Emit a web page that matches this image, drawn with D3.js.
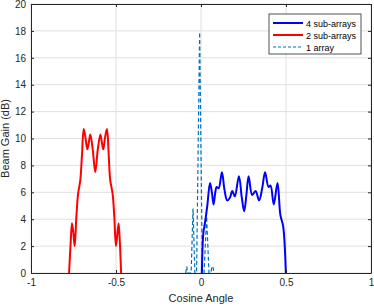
<!DOCTYPE html>
<html>
<head>
<meta charset="utf-8">
<script src="https://cdn.jsdelivr.net/npm/d3@7"></script>
<style>
  body { margin: 0; background: #fff; }
  svg { font-family: "Liberation Sans", Arial, sans-serif; }
  .axis path, .axis line { stroke: #262626; }
  .axis text { fill: #262626; font-size: 10px; }
</style>
</head>
<body>
<svg id="chart" width="374" height="307"></svg>
<script>
// tick values
var xTicks = [-1, -0.5, 0, 0.5, 1];
var yTicks = [0, 2, 4, 6, 8, 10, 12, 14, 16, 18, 20];

// 2 sub-arrays (red)
var redX = [-0.776, -0.767, -0.759, -0.751, -0.743, -0.733, -0.723, -0.710, -0.700, -0.690, -0.680, -0.669, -0.660, -0.651, -0.637, -0.622, -0.607, -0.592, -0.583, -0.575, -0.564, -0.553, -0.543, -0.534, -0.520, -0.510, -0.500, -0.485, -0.477, -0.470];
var redY = [0, 2.2, 3.7, 3.0, 2.0, 4.2, 5.9, 6.9, 8.8, 10.7, 10.1, 9.2, 9.7, 10.3, 9.2, 7.5, 9.2, 10.3, 9.7, 9.2, 10.1, 10.7, 8.8, 6.9, 5.9, 4.2, 2.0, 3.7, 2.2, 0];

// 4 sub-arrays (blue)
var blueX = [0.005, 0.014, 0.023, 0.037, 0.053, 0.064, 0.074, 0.084, 0.092, 0.104, 0.123, 0.138, 0.154, 0.170, 0.184, 0.199, 0.223, 0.240, 0.254, 0.267, 0.280, 0.301, 0.321, 0.342, 0.360, 0.377, 0.397, 0.409, 0.428, 0.450, 0.467, 0.483, 0.499];
var blueY = [0, 3.0, 3.7, 5.0, 6.7, 6.0, 5.1, 6.0, 6.4, 6.3, 7.5, 6.2, 5.4, 5.6, 6.1, 5.7, 7.2, 5.6, 4.6, 5.8, 7.2, 5.8, 6.1, 5.4, 6.3, 7.5, 6.4, 6.5, 5.1, 6.7, 4.3, 3.5, 0];

// 1 array (dashed)
var oneX = [-0.090, -0.084, -0.078, -0.058, -0.047, -0.036, -0.026, -0.008, 0.008, 0.018, 0.033, 0.047, 0.058, 0.064, 0.071, 0.076];
var oneY = [0, 0.5, 0, 0, 4.8, 0, 0, 17.9, 0, 0, 4.2, 0, 0, 0.5, 0.4, 0];

var seriesNames = ["4 sub-arrays", "2 sub-arrays", "1 array"];

var svg = d3.select("#chart");
var margin = {top: 4, right: 3, bottom: 34, left: 31};
var width = 374 - margin.left - margin.right,
    height = 307 - margin.top - margin.bottom;

var g = svg.append("g").attr("transform", "translate(" + margin.left + "," + margin.top + ")");

var x = d3.scaleLinear().domain([-1, 1]).range([0, width]);
var y = d3.scaleLinear().domain([0, 20]).range([height, 0]);

// grid
g.append("g").selectAll("line.gx").data(xTicks).enter().append("line")
  .attr("x1", function(d) { return x(d); }).attr("x2", function(d) { return x(d); })
  .attr("y1", 0).attr("y2", height)
  .attr("stroke", "#e0e0e0").attr("stroke-width", 1);
g.append("g").selectAll("line.gy").data(yTicks).enter().append("line")
  .attr("x1", 0).attr("x2", width)
  .attr("y1", function(d) { return y(d); }).attr("y2", function(d) { return y(d); })
  .attr("stroke", "#e0e0e0").attr("stroke-width", 1);

// clip
g.append("clipPath").attr("id", "clip").append("rect")
  .attr("width", width).attr("height", height + 1);

var plot = g.append("g").attr("clip-path", "url(#clip)");

function pts(xs, ys) { return xs.map(function(v, i) { return [v, ys[i]]; }); }

var smooth = d3.line()
  .x(function(d) { return x(d[0]); })
  .y(function(d) { return y(d[1]); })
  .curve(d3.curveCatmullRom.alpha(0.5));

var straight = d3.line()
  .x(function(d) { return x(d[0]); })
  .y(function(d) { return y(d[1]); });

plot.append("path").datum(pts(oneX, oneY))
  .attr("d", straight)
  .attr("fill", "none").attr("stroke", "#0072BD")
  .attr("stroke-width", 1.2).attr("stroke-dasharray", "4,2.5");

plot.append("path").datum(pts(redX, redY))
  .attr("d", smooth)
  .attr("fill", "none").attr("stroke", "#ff0000").attr("stroke-width", 2);

plot.append("path").datum(pts(blueX, blueY))
  .attr("d", smooth)
  .attr("fill", "none").attr("stroke", "#0000ff").attr("stroke-width", 2);

// axes
var fmt = function(d) { return d3.format("")(d).replace("\u2212", "-"); };

g.append("g").attr("class", "axis")
  .attr("transform", "translate(0," + height + ")")
  .call(d3.axisBottom(x).tickValues(xTicks).tickSizeInner(-3).tickSizeOuter(0).tickPadding(6).tickFormat(fmt));
g.append("g").attr("class", "axis")
  .call(d3.axisTop(x).tickValues(xTicks).tickSizeInner(-3).tickSizeOuter(0).tickFormat(""));
g.append("g").attr("class", "axis")
  .call(d3.axisLeft(y).tickValues(yTicks).tickSizeInner(-3).tickSizeOuter(0).tickPadding(5).tickFormat(fmt));
g.append("g").attr("class", "axis")
  .attr("transform", "translate(" + width + ",0)")
  .call(d3.axisRight(y).tickValues(yTicks).tickSizeInner(-3).tickSizeOuter(0).tickFormat(""));

// axis titles
g.append("text")
  .text("Cosine Angle")
  .attr("x", width / 2).attr("y", height + 29)
  .attr("text-anchor", "middle").attr("font-size", "11px").attr("fill", "#262626");
g.append("text")
  .text("Beam Gain (dB)")
  .attr("transform", "translate(" + (-22) + "," + height / 2 + ")rotate(-90)")
  .attr("text-anchor", "middle").attr("font-size", "11px").attr("fill", "#262626");

// legend
var legend = svg.append("g").attr("transform", "translate(269,14)");
legend.append("rect")
  .attr("width", 92).attr("height", 40)
  .attr("fill", "#fff").attr("stroke", "#262626").attr("stroke-width", 0.8);
var styles = [
  {color: "#0000ff", w: 2, dash: null},
  {color: "#ff0000", w: 2, dash: null},
  {color: "#0072BD", w: 1.2, dash: "3,2"}
];
var rows = legend.selectAll("g.row").data(seriesNames).enter().append("g")
  .attr("transform", function(d, i) { return "translate(0," + (9 + i * 12) + ")"; });
rows.append("line")
  .attr("x1", 4).attr("x2", 34).attr("y1", 0).attr("y2", 0)
  .attr("stroke", function(d, i) { return styles[i].color; })
  .attr("stroke-width", function(d, i) { return styles[i].w; })
  .attr("stroke-dasharray", function(d, i) { return styles[i].dash; });
rows.append("text")
  .text(function(d) { return d; })
  .attr("x", 37).attr("y", 3.5)
  .attr("font-size", "9px").attr("fill", "#000");
</script>
</body>
</html>
